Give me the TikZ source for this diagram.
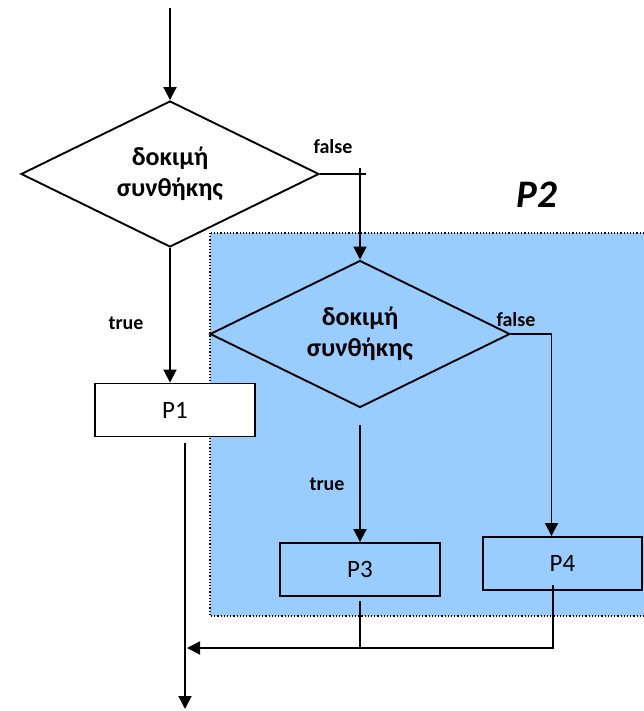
\documentclass[tikz,border=0pt]{standalone}
\usepackage{fontspec}
\setmainfont{Carlito}
\usetikzlibrary{shapes.geometric,arrows.meta}
\definecolor{paleblue}{RGB}{153,204,255}

\begin{document}
\begin{tikzpicture}[x=1pt,y=-1pt,line width=1.9pt,
  cond/.style={diamond,draw,fill=white,aspect=2,minimum width=298pt,minimum height=146pt,
    inner sep=0pt,align=center,font=\fontsize{26}{31}\selectfont\bfseries},
  proc/.style={rectangle,draw,minimum width=160pt,minimum height=53pt,inner sep=0pt,
    font=\fontsize{25}{28}\selectfont},
  lbl/.style={font=\fontsize{20}{22}\selectfont\bfseries},
  flow/.style={-{Triangle[length=13pt,width=13pt]}}]
 \useasboundingbox (0,0) rectangle (644,711);
 % the block P2
 \draw[dotted,line width=1.2pt,fill=paleblue] (210,233) rectangle (652,616);
 \node[font=\fontsize{39}{42}\selectfont\bfseries\itshape] (p2) at (537,195) {P2};

 \coordinate (start) at (170,8);
 \node[cond] (test1) at (170,174) {δοκιμή\\συνθήκης};
 \node[cond,fill=paleblue,minimum width=300pt,minimum height=147pt] (test2) at (360,334) {δοκιμή\\συνθήκης};
 \node[proc,fill=white] (p1) at (175,410) {P1};
 \node[proc] (p3) at (360,569.5) {P3};
 \node[proc,minimum width=159pt] (p4) at (562.5,563.5) {P4};

 \node[lbl] (false1) at (333,147) {false};
 \node[lbl] (true1) at (126,323) {true};
 \node[lbl] (false2) at (516,320) {false};
 \node[lbl] (true2) at (327,484) {true};

 \coordinate (t2out) at (360,425);
 \coordinate (p1out) at (185,443);
 \coordinate (p3out) at (360,601);
 \coordinate (p4out) at (553,585);
 \coordinate (merge) at (187,648);
 \coordinate (end) at (185,709);

 \draw[flow] (start) -- (test1.north);
 \draw[flow] (test1.south) -- (test1.south |- p1.north);
 \draw (test1.east) -- ([xshift=46pt]test1.east);
 \draw[flow] ([yshift=6pt]test1.east -| test2.north) -- (test2.north);
 \draw[flow] (test2.east) -| ([xshift=-11pt]p4.north);
 \draw[flow] (t2out) -- (p3.north);
 \draw (p3out) -- (p3out |- merge);
 \draw[flow] (p4out) |- (merge);
 \draw[flow] (p1out) -- (end);
\end{tikzpicture}
\end{document}
